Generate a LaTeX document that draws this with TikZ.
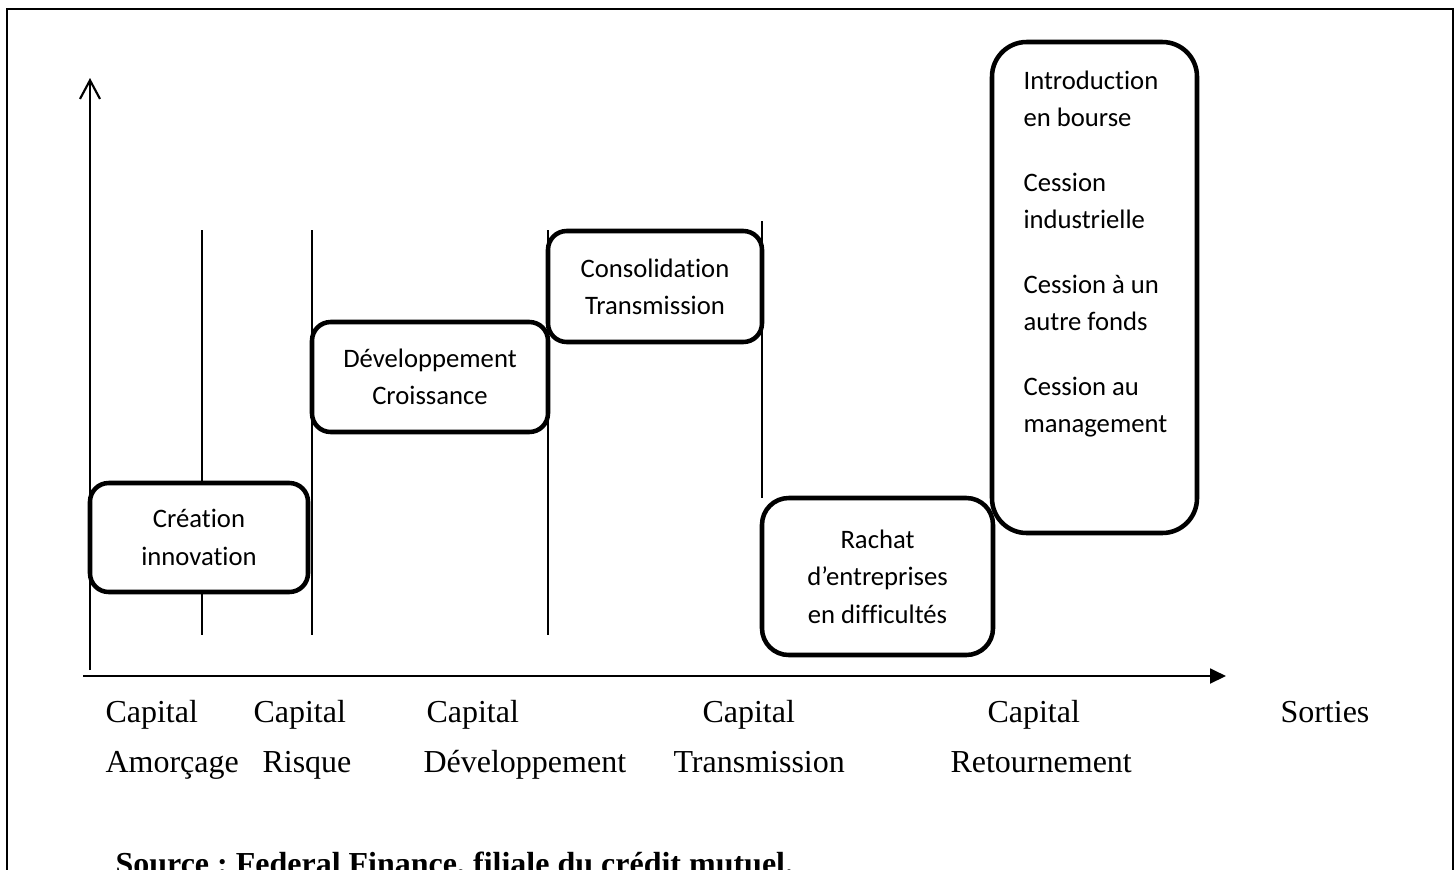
\documentclass[tikz,border=0pt]{standalone}
\usepackage{fontspec}
\setmainfont{Liberation Serif}
\newfontfamily\boxfont[Ligatures=NoCommon]{Carlito}
\usetikzlibrary{arrows.meta}
\frenchspacing

\begin{document}
\begin{tikzpicture}[%
  x=0.375pt, y=-0.375pt,
  stage/.style={rectangle, draw, line width=1.7pt, rounded corners=7pt, fill=white,
    align=center, inner sep=0pt, font=\boxfont\fontsize{10}{14}\selectfont},
  size/.style 2 args={minimum width=#1*0.375pt, minimum height=#2*0.375pt},
  divider/.style={line width=0.5pt},
  axis/.style={line width=0.8pt},
  tag/.style={inner sep=0pt, anchor=base west, font=\fontsize{12}{14}\selectfont},]
  \useasboundingbox (0,0) rectangle (1456,869);
  % page frame, open at the bottom
  \draw[line width=0.75pt] (7,890) |- (1453,9) -- (1453,890);

  % stage limits
  \foreach \x/\top/\bot [count=\i] in {202/230/635, 312/230/635, 548/230/635, 762/221/498} {
    \coordinate (d\i top) at (\x,\top);
    \coordinate (d\i bot) at (\x,\bot);
    \draw[divider] (d\i top) -- (d\i bot);
  }

  % axes
  \coordinate (yfoot) at (90,670);
  \coordinate (ytip) at (90,78);
  \coordinate (xfoot) at (83,676);
  \coordinate (xtip) at (1226,676);
  \draw[axis, -{Straight Barb[length=7pt,width=7.5pt]}] (yfoot) -- (ytip);
  \draw[axis, -{Triangle[length=6pt,width=5.6pt]}] (xfoot) -- (xtip);

  % stages
  \node[stage, size={218}{109}] (creation) at (199,537.5) {Création\\innovation};
  \node[stage, size={236}{110}] (devel) at (430,377) {Développement\\Croissance};
  \node[stage, size={214}{111}] (consol) at (655,286.5) {Consolidation\\Transmission};
  \node[stage, size={231}{157}, rounded corners=10pt] (rachat) at (877.5,576.5)
    {Rachat\\d’entreprises\\en difficultés};
  \node[stage, size={205}{491}, rounded corners=13pt] (sorties) at (1094.5,287.5) {};
  \node[anchor=north west, align=left, inner sep=0pt, font=\boxfont\fontsize{10}{14}\selectfont]
    (issues) at (1023,70)
    {Introduction\\en bourse\\[10.3pt]Cession\\industrielle\\[10.3pt]%
     Cession à un\\autre fonds\\[10.3pt]Cession au\\management};

  % labels under the axis
  \foreach \x/\txt [count=\i] in {105/Capital, 253/Capital, 426/Capital, 702/Capital,
      987/Capital, 1280/Sorties}
    \node[tag] (upper\i) at (\x,722) {\txt};
  \foreach \x/\txt [count=\i] in {105/Amorçage, 262/Risque, 423/Développement,
      673/Transmission, 950/Retournement}
    \node[tag] (lower\i) at (\x,772) {\txt};

  \node[tag, font=\bfseries\fontsize{12}{14}\selectfont] (source) at (115,874)
    {Source : Federal Finance, filiale du crédit mutuel.};
\end{tikzpicture}
\end{document}
